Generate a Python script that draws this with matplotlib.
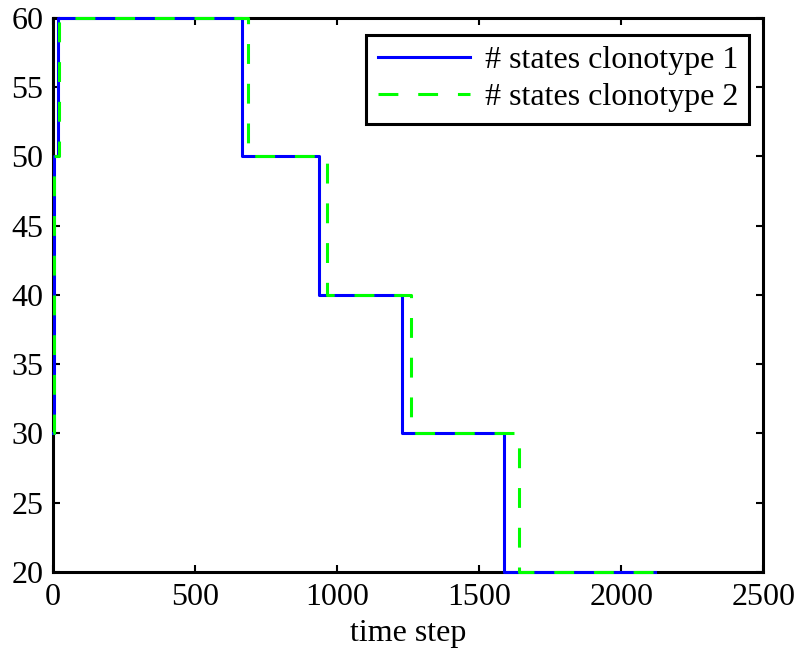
import matplotlib
matplotlib.use("Agg")
import matplotlib.pyplot as plt

# step change points (time step) and number of states
t1 = [0, 3, 17, 666, 937, 1228, 1589, 2120]
s1 = [30, 50, 60, 50, 40, 30, 20, 20]
t2 = [0, 3, 20, 687, 965, 1260, 1639, 2120]
s2 = [30, 50, 60, 50, 40, 30, 20, 20]

plt.rcParams['font.family'] = ['Liberation Serif', 'DejaVu Serif']
plt.rcParams['font.size'] = 23

fig = plt.figure(figsize=(7.99, 6.58), dpi=100)
ax = fig.add_axes([0.0663, 0.1307, 0.889, 0.842])

ax.plot(t1, s1, drawstyle='steps-post', color=(0, 0, 1), lw=2.2,
        label='# states clonotype 1', clip_on=False, zorder=3)
ax.plot(t2, s2, drawstyle='steps-post', color=(0, 1, 0), lw=2.2,
        dashes=(6.5, 6.5), label='# states clonotype 2', clip_on=False, zorder=4)

ax.set_xlim(0, 2500)
ax.set_ylim(20, 60)
ax.set_xticks([0, 500, 1000, 1500, 2000, 2500])
ax.set_yticks(range(20, 61, 5))
ax.set_xlabel('time step', labelpad=5)

for sp in ax.spines.values():
    sp.set_linewidth(2.2)
ax.tick_params(direction='in', length=5, width=1.5, top=True, right=True,
               pad=8)
ax.tick_params(axis='y', pad=7)

leg = ax.legend(loc='upper right', bbox_to_anchor=(0.98, 0.97),
                handlelength=2.9, handletextpad=0.45, fancybox=False,
                framealpha=1, borderaxespad=0, labelspacing=0.25,
                borderpad=0.35)
leg.get_frame().set_edgecolor('black')
leg.get_frame().set_linewidth(2.2)

fig.savefig('out.png', dpi=100)
